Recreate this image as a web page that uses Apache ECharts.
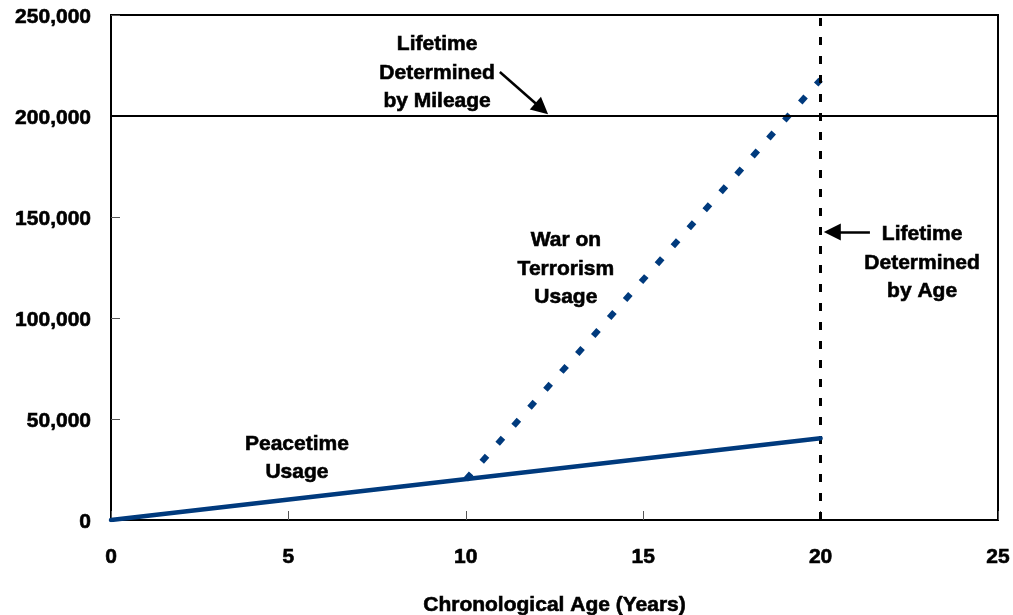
<!DOCTYPE html>
<html>
<head>
<meta charset="utf-8">
<script src="https://cdn.jsdelivr.net/npm/echarts@6/dist/echarts.min.js"></script>
<style>
html,body{margin:0;padding:0;background:#fff;}
#c{width:1013px;height:615px;}
</style>
</head>
<body>
<div id="c"></div>
<script>
// Data
const xTicks = [0, 5, 10, 15, 20, 25];
const yTicks = [0, 50000, 100000, 150000, 200000, 250000];
const peacetime = [[0, 0], [20, 40500]];
const warOnTerrorism = [[10, 20000], [20, 218000]];
const mileageLimit = 200000;
const ageLimit = 20;
const xTitle = 'Chronological Age (Years)';
const annotations = [
  { text: 'Lifetime\nDetermined\nby Mileage', x: 9.19, y: 221300 },
  { text: 'War on\nTerrorism\nUsage', x: 12.82, y: 124200 },
  { text: 'Lifetime\nDetermined\nby Age', x: 22.86, y: 127200 },
  { text: 'Peacetime\nUsage', x: 5.24, y: 30500 }
];
const arrows = [
  { from: [10.96, 221800], to: [12.14, 203600] },
  { from: [21.39, 142600], to: [20.33, 142600] }
];

const FONT = '"Liberation Sans", Arial, sans-serif';
const HEAVY = { textBorderColor: '#000', textBorderWidth: 0.6 };
const chart = echarts.init(document.getElementById('c'));
chart.setOption({
  animation: false,
  backgroundColor: '#fff',
  grid: { left: 111, right: 15, top: 15, bottom: 95, show: true, borderColor: '#000', borderWidth: 2,
    containLabel: false, outerBoundsMode: 'none' },
  xAxis: {
    type: 'value', min: 0, max: 25, interval: 5,
    name: xTitle, nameLocation: 'middle', nameGap: 75,
    nameTextStyle: Object.assign({ fontFamily: FONT, fontWeight: 'bold', fontSize: 21, color: '#000' }, HEAVY),
    axisLine: { show: true, lineStyle: { color: '#000', width: 2 } },
    axisTick: { show: true, inside: true, length: 9, lineStyle: { color: '#555', width: 1 } },
    axisLabel: Object.assign({ fontFamily: FONT, fontWeight: 'bold', fontSize: 21, color: '#000', margin: 27 }, HEAVY),
    splitLine: { show: false }
  },
  yAxis: {
    type: 'value', min: 0, max: 250000, interval: 50000,
    axisLine: { show: true, lineStyle: { color: '#000', width: 2 } },
    axisTick: { show: true, inside: true, length: 9, lineStyle: { color: '#555', width: 1 } },
    axisLabel: Object.assign({ fontFamily: FONT, fontWeight: 'bold', fontSize: 21, color: '#000', margin: 20,
      formatter: v => '{a|' + v.toLocaleString('en-US') + '}',
      rich: { a: Object.assign({ fontFamily: FONT, fontWeight: 'bold', fontSize: 21, color: '#000', padding: [4, 0, 0, 0] }, HEAVY) }
    }, HEAVY),
    splitLine: { show: false }
  },
  series: [
    {
      type: 'line', data: peacetime, symbol: 'none', z: 5,
      lineStyle: { color: '#003a7d', width: 4.5, cap: 'round' }
    },
    {
      type: 'line', data: warOnTerrorism, symbol: 'none', z: 4,
      lineStyle: { color: '#003a7d', width: 6, type: [8, 16], cap: 'butt' }
    },
    {
      type: 'line', data: [], z: 3,
      markLine: {
        silent: true, symbol: 'none', label: { show: false },
        data: [
          { yAxis: mileageLimit, lineStyle: { color: '#000', width: 2, type: 'solid' } },
          { xAxis: ageLimit, lineStyle: { color: '#000', width: 3, type: [8, 11] } }
        ]
      }
    },
    {
      type: 'line', data: [], z: 6,
      markLine: {
        silent: true, symbol: ['none', 'triangle'], symbolSize: [17, 17], label: { show: false },
        lineStyle: { color: '#000', width: 2.5, type: 'solid' },
        itemStyle: { color: '#000' },
        data: [
          [{ coord: arrows[0].from }, { coord: arrows[0].to }],
          [{ coord: arrows[1].from }, { coord: arrows[1].to, itemStyle: { color: '#444' } }]
        ]
      }
    },
    {
      type: 'scatter', symbolSize: 0, z: 7, silent: true,
      itemStyle: { opacity: 1 },
      data: annotations.map(a => ({ value: [a.x, a.y], name: a.text })),
      label: Object.assign({
        show: true, position: 'inside', formatter: p => p.name,
        fontFamily: FONT, fontWeight: 'bold', fontSize: 21, lineHeight: 28.5, color: '#000', align: 'center'
      }, HEAVY)
    }
  ]
});
</script>
</body>
</html>
